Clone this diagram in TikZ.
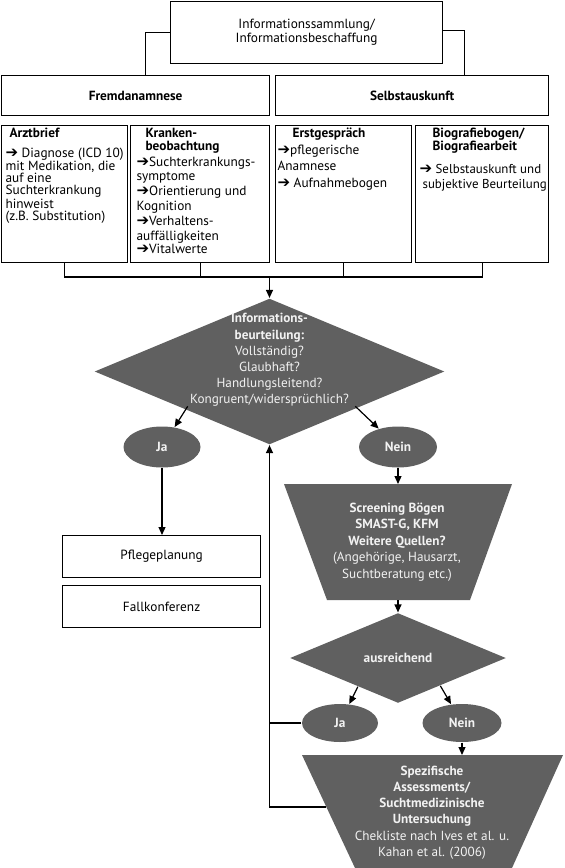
\documentclass[tikz,border=0pt]{standalone}
\usepackage{fontspec}
\setmainfont{PT Sans}
\newfontfamily\arrfont{DejaVu Sans}
\usetikzlibrary{shapes.geometric,arrows.meta,calc}
\newcommand\rarr{{\arrfont\fontsize{15}{10}\selectfont ➔}}
\definecolor{dkgray}{RGB}{96,96,96}
\definecolor{light}{RGB}{242,242,242}
\begin{document}
\begin{tikzpicture}[x=1pt,y=-1pt, line width=1.2pt,
  box/.style={draw, inner sep=0, anchor=north west},
  arr/.style={-{Triangle[length=8pt,width=7pt]}},
  txt/.style={inner sep=0, anchor=north west, align=left, font=\fontsize{13.3}{13}\selectfont},
  ctxt/.style={inner sep=0, align=center, font=\fontsize{13.3}{14}\selectfont},
  dtxt/.style={inner sep=0, align=center, text=light, font=\fontsize{13.2}{16.2}\selectfont},
  oval/.style={ellipse, fill=dkgray, inner sep=0, text=light, font=\fontsize{13.3}{13}\selectfont\bfseries}]
\useasboundingbox (0,0) rectangle (565,868);
% top box
\node[box, minimum width=272, minimum height=62] (info) at (170,1) {};
\node[ctxt] (infoT) at (info.center) {Informationssammlung/\\Informationsbeschaffung};
\node[box, minimum width=268, minimum height=40] (fremd) at (1,75) {};
\node[ctxt, font=\fontsize{13.3}{14}\selectfont\bfseries] (fremdT) at (fremd.center) {Fremdanamnese};
\node[box, minimum width=273, minimum height=40] (selbst) at (275,75) {};
\node[ctxt, font=\fontsize{13.3}{14}\selectfont\bfseries] (selbstT) at (selbst.center) {Selbstauskunft};
\draw (info.west) -| ([xshift=10pt]fremd.north);
\draw ([yshift=2.5pt]info.east) -| ([xshift=52pt]selbst.north);
% source boxes
\node[box, minimum width=126, minimum height=137] (arzt) at (1,125) {};
\node[box, minimum width=139, minimum height=137] (krank) at (130,125) {};
\node[box, minimum width=136, minimum height=137] (erst) at (275,125) {};
\node[box, minimum width=133, minimum height=137] (bio) at (415,125) {};
\node[txt, font=\fontsize{13.3}{13}\selectfont\bfseries] (arztH) at (9,127.5) {Arztbrief};
\node[txt, font=\fontsize{13.3}{12.2}\selectfont] (arztB) at (5,147) {\rarr\ Diagnose (ICD 10)\\mit Medikation, die\\auf eine\\Suchterkrankung\\hinweist\\(z.B. Substitution)};
\node[txt, font=\fontsize{13.3}{13}\selectfont\bfseries] (krankH) at (145,127.5) {Kranken-\\beobachtung};
\node[txt, font=\fontsize{13.3}{14.8}\selectfont] (krankB) at (136,156) {\rarr Suchterkrankungs-\\symptome\\\rarr Orientierung und\\Kognition\\\rarr Verhaltens-\\auffälligkeiten\\[-1.5pt]\rarr Vitalwerte};
\node[txt, font=\fontsize{13.3}{13}\selectfont\bfseries] (erstH) at (292,127.5) {Erstgespräch};
\node[txt, font=\fontsize{13.3}{16.5}\selectfont] (erstB) at (277,144) {\rarr pflegerische\\Anamnese\\\rarr\ Aufnahmebogen};
\node[txt, font=\fontsize{13.3}{13}\selectfont\bfseries] (bioH) at (432,127.5) {Biografiebogen/\\Biografiearbeit};
\node[txt, font=\fontsize{12.9}{15}\selectfont] (bioB) at (419,164) {\rarr\ Selbstauskunft und\\\hspace*{3pt}subjektive Beurteilung};
\coordinate (j) at (269.5,277);
\draw (arzt.south) -- (arzt.south |- j) -- (bio.south |- j) -- (bio.south);
\draw (krank.south) -- (krank.south |- j);
\draw (erst.south) -- (erst.south |- j);
% first decision
\node[diamond, fill=dkgray, minimum width=350, minimum height=146, inner sep=0] (dia) at (269.5,371.5) {};
\node[dtxt] (diaT) at (269.5,360) {\textbf{Informations-}\\\textbf{beurteilung:}\\Vollständig?\\Glaubhaft?\\Handlungsleitend?\\Kongruent/widersprüchlich?};
\draw[arr] (j) -- (dia.north);
\node[oval, minimum width=77, minimum height=41] (ja) at (162,447) {Ja};
\node[oval, minimum width=78, minimum height=41] (nein) at (398,447) {Nein};
\draw[arr] ([xshift=6pt,yshift=2pt]dia.south west) -- (ja);
\draw[arr] ([xshift=-2pt,yshift=2pt]dia.south east) -- (nein);
% yes branch
\node[box, minimum width=198, minimum height=42] (pflege) at (62,535) {};
\node[ctxt] (pflegeT) at (pflege.center) {Pflegeplanung};
\node[box, minimum width=198, minimum height=42] (fall) at (62,585) {};
\node[ctxt] (fallT) at (fall.center) {Fallkonferenz};
\draw[arr] (ja.south) -- (ja.south |- pflege.north);
% screening trapezoid
\coordinate (t1a) at (284,484);
\coordinate (t1b) at (512,484);
\coordinate (t1c) at (470,600);
\coordinate (t1d) at (327,600);
\coordinate (t1top) at (398,484);
\coordinate (t1bot) at (398,600);
\fill[dkgray] (t1a) -- (t1b) -- (t1c) -- (t1d) -- cycle;
\node[dtxt, font=\fontsize{13.2}{16.5}\selectfont] (t1T) at (397,542) {\textbf{Screening Bögen}\\\textbf{SMAST-G, KFM}\\\textbf{Weitere Quellen?}\\(Angehörige, Hausarzt,\\Suchtberatung etc.)};
\draw[arr] (nein.south) -- (nein.south |- t1top);
% second decision
\node[diamond, fill=dkgray, minimum width=216, minimum height=90, inner sep=0, text=light, font=\fontsize{13.3}{13}\selectfont\bfseries] (dia2) at (398,658) {ausreichend};
\draw[arr] (t1bot) -- (dia2.north);
\node[oval, minimum width=76, minimum height=38] (ja2) at (340,723) {Ja};
\node[oval, minimum width=79, minimum height=38] (nein2) at (462,723) {Nein};
\draw[arr] ($(dia2.west)!0.63!(dia2.south)$) -- (ja2);
\draw[arr] ($(dia2.east)!0.61!(dia2.south)$) -- (nein2);
% specific assessments trapezoid
\coordinate (t2a) at (302,755);
\coordinate (t2b) at (563,755);
\coordinate (t2c) at (512,868);
\coordinate (t2d) at (355,868);
\coordinate (t2top) at (462,755);
\fill[dkgray] (t2a) -- (t2b) -- ($(t2b)!1.1!(t2c)$) -- ($(t2a)!1.1!(t2d)$) -- cycle;
\node[dtxt] (t2T) at (432,812.5) {\textbf{Spezifische}\\\textbf{Assessments/}\\\textbf{Suchtmedizinische}\\\textbf{Untersuchung}\\Chekliste nach Ives et al. u.\\Kahan et al. (2006)};
\draw[arr] (nein2.south) -- (nein2.south |- t2top);
% feedback loop
\coordinate (fb) at ($(t2a)!0.46!(t2d)$);
\draw[arr] (fb) -| (dia.south);
\draw (ja2.west) -- (ja2.west -| dia.south);
\end{tikzpicture}
\end{document}
